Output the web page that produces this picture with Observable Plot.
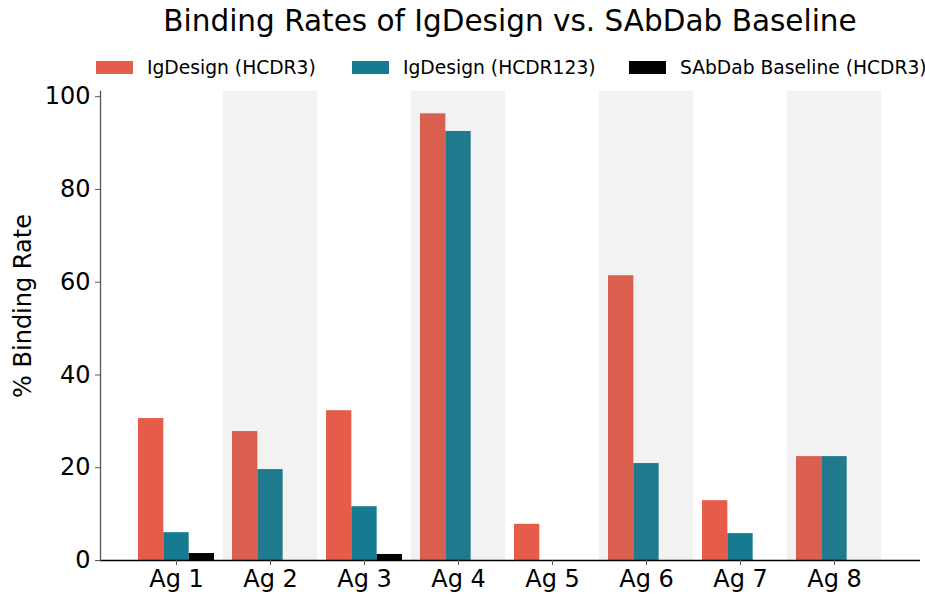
<!DOCTYPE html>
<html>
<head>
<meta charset="utf-8">
<script src="https://cdn.jsdelivr.net/npm/d3@7"></script>
<script src="https://cdn.jsdelivr.net/npm/@observablehq/plot@0.6"></script>
<style>
  html, body { margin: 0; padding: 0; background: #fff; }
  body { width: 925px; height: 594px; overflow: hidden; font-family: "DejaVu Sans", sans-serif; }
  #header { position: relative; width: 925px; height: 80px; }
  #title { position: absolute; left: 0; width: 1020px; top: 4px; text-align: center; font-size: 29.5px; color: #000; }
  .leg { position: absolute; top: 57px; display: flex; align-items: center; font-size: 18.7px; color: #000; white-space: nowrap; }
  .sw { width: 37px; height: 13px; margin-right: 14px; }
</style>
</head>
<body>
<div id="header"><div id="title">Binding Rates of IgDesign vs. SAbDab Baseline</div></div>
<div id="chart"></div>
<script>
const agents = ["Ag 1", "Ag 2", "Ag 3", "Ag 4", "Ag 5", "Ag 6", "Ag 7", "Ag 8"];
const hcdr3 = [30.6, 27.8, 32.3, 96.3, 7.8, 61.4, 12.9, 22.4];
const hcdr123 = [6.0, 19.6, 11.6, 92.5, 0, 20.9, 5.8, 22.4];
const sabdab = [1.5, 0, 1.3, 0, 0, 0, 0, 0];
const seriesNames = ["IgDesign (HCDR3)", "IgDesign (HCDR123)", "SAbDab Baseline (HCDR3)"];
const seriesColors = ["#E55C4A", "#167A90", "#000000"];
const shaded = ["Ag 2", "Ag 4", "Ag 6", "Ag 8"];
const yTicks = [0, 20, 40, 60, 80, 100];

const seriesValues = [hcdr3, hcdr123, sabdab];

// legend (HTML, above the SVG)
const legendLeft = [96, 352, 629];
const header = document.getElementById("header");
seriesNames.forEach((name, i) => {
  const el = document.createElement("div");
  el.className = "leg";
  el.style.left = legendLeft[i] + "px";
  el.innerHTML = `<div class="sw" style="background:${seriesColors[i]}"></div><span>${name}</span>`;
  header.appendChild(el);
});

const width = 925, height = 514;
const step = 94, groupPad = 9, barW = (step - 2 * groupPad) / 3;
const yMax = 101.12;

const barMarks = seriesValues.map((vals, j) =>
  Plot.barY(agents.map((a, i) => ({agent: a, value: vals[i]})).filter(d => d.value > 0), {
    x: "agent", y: "value", fill: seriesColors[j],
    insetLeft: groupPad + j * barW,
    insetRight: step - groupPad - (j + 1) * barW
  })
);

const chart = Plot.plot({
  width, height,
  marginTop: 11, marginBottom: 34, marginLeft: 100, marginRight: 5,
  style: {fontFamily: "DejaVu Sans, sans-serif", fontSize: "24px", color: "#000", background: "#fff"},
  x: {type: "band", domain: agents, range: [129, 881], padding: 0, label: null},
  y: {domain: [0, yMax], label: null},
  marks: [
    ...barMarks,
    Plot.barY(shaded, {x: d => d, y1: 0, y2: yMax, fill: "#808080", fillOpacity: 0.1}),
    Plot.ruleY([0], {stroke: "#000", strokeWidth: 1.3}),
    Plot.frame({anchor: "left", stroke: "#555", strokeWidth: 1.3}),
    Plot.axisY({ticks: yTicks, tickSize: 5, tickPadding: 5, stroke: "#555", fill: "#000", fontSize: 24, label: null}),
    Plot.axisX({tickSize: 5, tickPadding: 4, stroke: "#555", fill: "#000", fontSize: 24, label: null}),
    Plot.text(["% Binding Rate"], {frameAnchor: "left", textAnchor: "middle", rotate: -90, dx: -77, dy: -20, fontSize: 24, fill: "#000"})
  ]
});
document.getElementById("chart").appendChild(chart);
</script>
</body>
</html>
